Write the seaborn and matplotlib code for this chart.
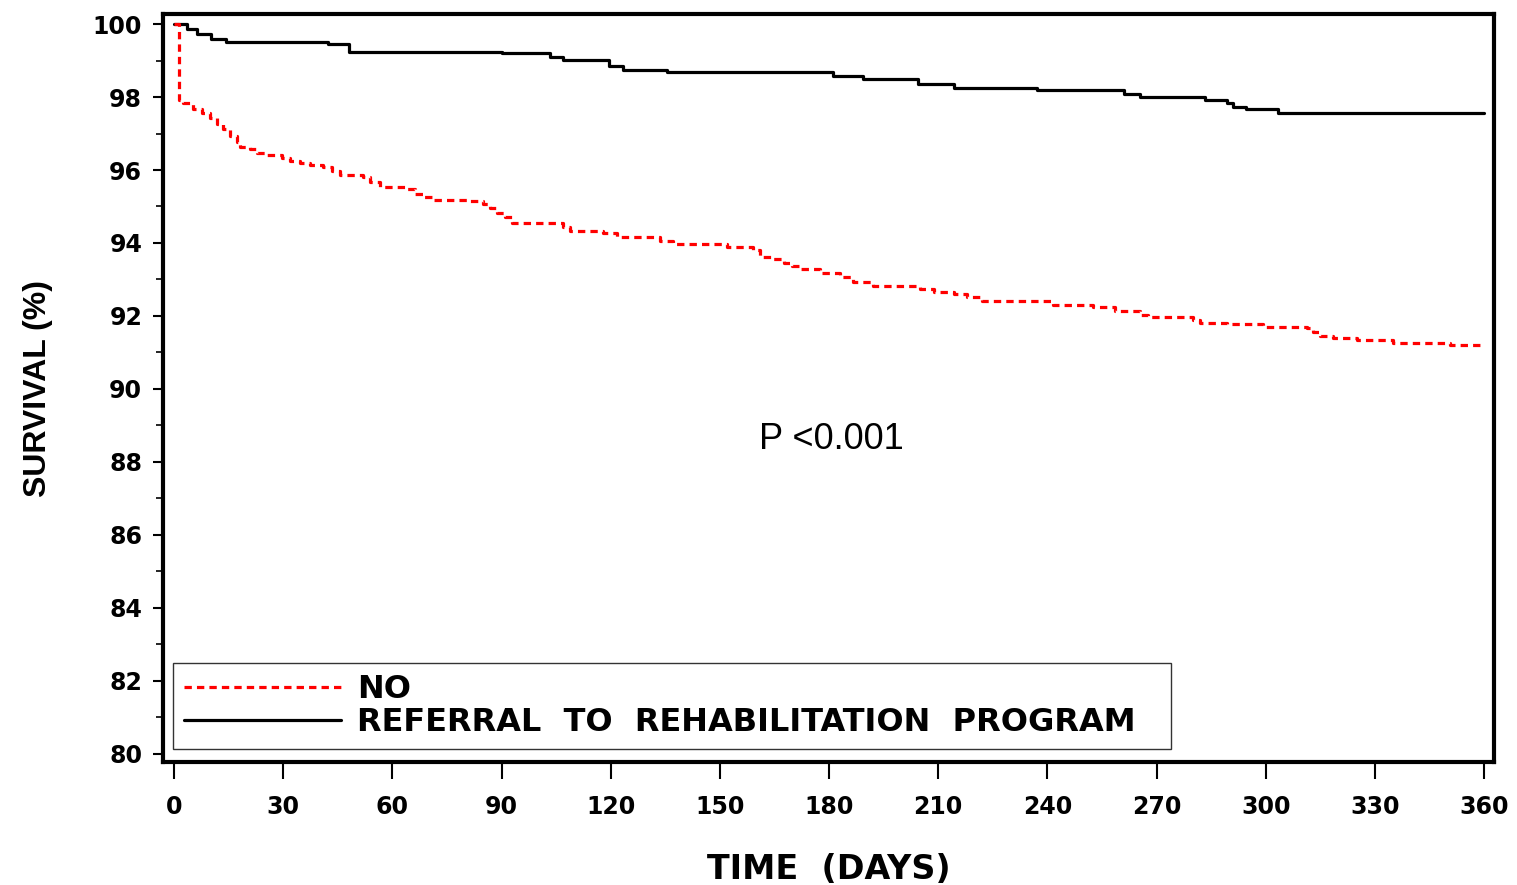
import matplotlib
matplotlib.use("Agg")
import matplotlib.pyplot as plt
import seaborn as sns
import pandas as pd
from matplotlib.lines import Line2D
from matplotlib.ticker import MultipleLocator

sns.set_theme(style="white")
plt.rcParams["font.family"] = ["Liberation Sans", "DejaVu Sans"]
plt.rcParams.update({
    "text.color": "black",
    "axes.labelcolor": "black",
    "xtick.color": "black",
    "ytick.color": "black",
})

# Kaplan-Meier step estimates (days, survival %)
rehab_days = [0, 3.5, 6.2, 10.2, 14.3, 42.4, 48, 90.2, 103.3, 107, 119.4, 123.3,
              135.4, 181, 189.4, 204.5, 214.3, 237.2, 261, 265.5, 283.3, 289.3,
              291, 294.6, 303.3, 360]
rehab_surv = [100, 99.85, 99.73, 99.59, 99.52, 99.44, 99.24, 99.2, 99.09, 99.01,
              98.86, 98.74, 98.68, 98.58, 98.50, 98.36, 98.24, 98.18, 98.08, 98.01,
              97.92, 97.83, 97.73, 97.68, 97.57, 97.57]

no_days = [0, 1.5, 2.6, 5.3, 7.6, 9.9, 11.7, 13.5, 15.4, 17.2, 18.1, 20.9, 22.7,
           25.5, 29.6, 31.9, 34.6, 37.4, 41, 43.3, 45.6, 52, 53.9, 56.6, 63.5,
           66.2, 68.5, 71.3, 81.3, 85, 86.8, 88.7, 91, 92.8, 107, 108.8, 118,
           121.6, 133.5, 137.2, 151.9, 159.2, 161, 164.7, 167.5, 169.7, 172,
           177.5, 183, 186.7, 192.2, 205, 208.7, 214.2, 217.8, 222, 241.6, 252.6,
           258.6, 265.5, 267.7, 280.1, 281.9, 289.3, 299.3, 311.3, 313.1, 314.9,
           318.6, 325, 335.1, 350.6, 360]
no_surv = [100, 97.92, 97.83, 97.66, 97.55, 97.42, 97.26, 97.12, 96.93, 96.78,
           96.64, 96.57, 96.46, 96.40, 96.34, 96.25, 96.18, 96.14, 96.09, 95.98,
           95.86, 95.82, 95.68, 95.54, 95.48, 95.34, 95.27, 95.18, 95.16, 95.07,
           94.95, 94.81, 94.72, 94.56, 94.45, 94.34, 94.27, 94.17, 94.06, 93.96,
           93.90, 93.81, 93.63, 93.55, 93.46, 93.37, 93.28, 93.19, 93.06, 92.94,
           92.82, 92.73, 92.66, 92.60, 92.53, 92.40, 92.30, 92.24, 92.15, 92.03,
           91.96, 91.89, 91.82, 91.78, 91.69, 91.66, 91.57, 91.45, 91.39, 91.34,
           91.27, 91.21, 91.21]

x_ticks = list(range(0, 361, 30))
y_ticks = list(range(80, 101, 2))
legend_labels = ["NO", "REFERRAL  TO  REHABILITATION  PROGRAM"]

rehab_df = pd.DataFrame({"day": rehab_days, "surv": rehab_surv})
no_df = pd.DataFrame({"day": no_days, "surv": no_surv})

wide = "DejaVu Sans"

fig = plt.figure(figsize=(15.17, 8.85), dpi=100)
ax = fig.add_axes([0.1075, 0.139, 0.8773, 0.845])

dash = (2.3, 1.6)
sns.lineplot(data=rehab_df, x="day", y="surv", ax=ax, color="black",
             linewidth=2.3, drawstyle="steps-post", estimator=None, sort=False)
sns.lineplot(data=no_df, x="day", y="surv", ax=ax, color="#ff0000",
             linewidth=2.3, drawstyle="steps-post", estimator=None, sort=False,
             dashes=False)
ax.lines[-1].set_dashes(dash)

ax.set_xlim(-3.0, 362.7)
ax.set_ylim(79.78, 100.27)
ax.set_xticks(x_ticks)
ax.set_yticks(y_ticks)
ax.yaxis.set_minor_locator(MultipleLocator(1))

for s in ax.spines.values():
    s.set_linewidth(3)
    s.set_color("black")

ax.tick_params(axis="x", which="major", direction="out", length=12, width=1.5,
               pad=12, bottom=True)
ax.tick_params(axis="y", which="major", direction="out", length=7, width=1.5,
               pad=8, left=True)
ax.tick_params(axis="y", which="minor", direction="out", length=5, width=1.2,
               left=True)
for lab in ax.get_xticklabels() + ax.get_yticklabels():
    lab.set_fontweight("bold")
    lab.set_family(wide)
    lab.set_fontsize(17)

ax.set_xlabel("TIME  (DAYS)", fontsize=24, fontweight="bold", family=wide,
              labelpad=24)
ax.set_ylabel("SURVIVAL (%)", fontsize=23, fontweight="bold", labelpad=29)

ax.text(180.5, 88.36, "P <0.001", fontsize=26, ha="center", va="baseline")

handles = [Line2D([], [], color="#ff0000", linewidth=2.3, dashes=dash),
           Line2D([], [], color="black", linewidth=2.3)]
leg = ax.legend(handles, legend_labels, loc="lower left",
                bbox_to_anchor=(0.0075, 0.0174, 0.75, 0.12), mode="expand",
                borderaxespad=0, frameon=True, fancybox=False,
                handlelength=4.9, handletextpad=0.5, labelspacing=0.05,
                borderpad=0.35, prop=dict(size=23, weight="bold", family=wide))
leg.get_frame().set_edgecolor("black")
leg.get_frame().set_linewidth(1.0)

fig.savefig("out.png", dpi=100)
